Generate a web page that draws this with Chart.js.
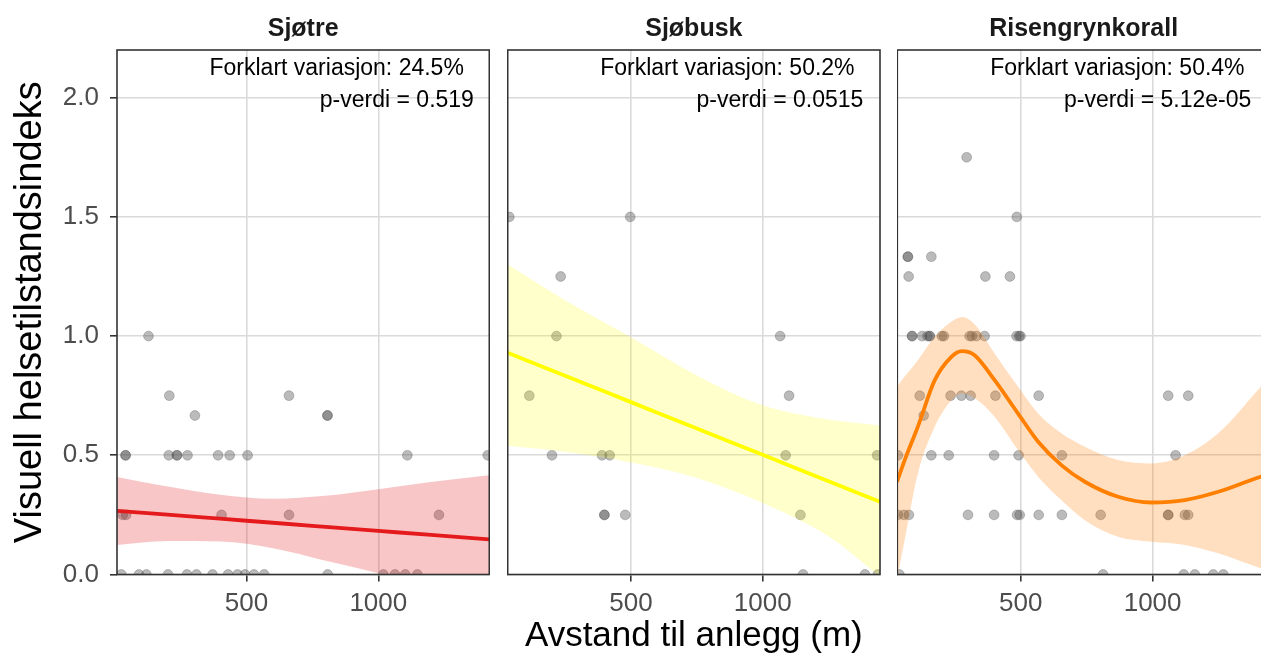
<!DOCTYPE html>
<html>
<head>
<meta charset="utf-8">
<script src="https://cdn.jsdelivr.net/npm/chart.js@4.4.1/dist/chart.umd.min.js"></script>
<style>
  html, body { margin: 0; padding: 0; width: 1261px; height: 659px; overflow: hidden; background: #fff; }
  .panel { position: absolute; top: 0; height: 659px; }
</style>
</head>
<body>
<div class="panel" style="left:0;width:490px"><canvas id="p1"></canvas></div>
<div class="panel" style="left:507px;width:374px"><canvas id="p2"></canvas></div>
<div class="panel" style="left:897px;width:374px"><canvas id="p3"></canvas></div>
<script>
const FONT = "'Liberation Sans', Arial, sans-serif";
Chart.defaults.font.family = FONT;

const xTicks = [500, 1000];
const yTicks = [0, 0.5, 1, 1.5, 2];

// Sjøtre
const sjotreX = [128, 207, 661, 304, 807, 807,
  41, 41, 205, 236, 236, 276, 392, 436, 504, 1110, 1415,
  30, 43, 405, 661, 1230,
  25, 92, 120, 202, 274, 310, 371, 430, 466, 494, 528, 567, 808, 1019, 1063, 1102, 1148];
const sjotreY = [1, 0.75, 0.75, 0.667, 0.667, 0.667,
  0.5, 0.5, 0.5, 0.5, 0.5, 0.5, 0.5, 0.5, 0.5, 0.5, 0.5,
  0.25, 0.25, 0.25, 0.25, 0.25,
  0, 0, 0, 0, 0, 0, 0, 0, 0, 0, 0, 0, 0, 0, 0, 0, 0];
const sjotreFitX = [8.5, 200, 400, 600, 800, 1000, 1200, 1421];
const sjotreFit = [0.267, 0.251, 0.234, 0.217, 0.200, 0.183, 0.166, 0.147];
const sjotreHi = [0.409, 0.369, 0.335, 0.318, 0.330, 0.358, 0.388, 0.416];
const sjotreLo = [0.124, 0.140, 0.138, 0.110, 0.058, 0.005, -0.060, -0.125];

// Sjøbusk
const sjobuskX = [38, 497, 233, 217, 1066, 114, 1100,
  200, 390, 419, 1087, 1434, 399, 399, 478, 1143, 1153, 1388, 1437];
const sjobuskY = [1.5, 1.5, 1.25, 1, 1, 0.75, 0.75,
  0.5, 0.5, 0.5, 0.5, 0.5, 0.25, 0.25, 0.25, 0.25, 0, 0, 0];
const sjobuskFitX = [32, 250, 500, 750, 1000, 1250, 1445];
const sjobuskFit = [0.93, 0.834, 0.723, 0.612, 0.502, 0.391, 0.305];
const sjobuskHi = [1.30, 1.15, 0.995, 0.835, 0.71, 0.65, 0.625];
const sjobuskLo = [0.54, 0.515, 0.47, 0.405, 0.30, 0.16, -0.01];

// Risengrynkorall
const risX = [295, 485, 72, 72, 161, 75, 366, 459,
  88, 88, 126, 146, 155, 155, 201, 209, 306, 315, 332, 363, 484, 494, 499,
  117, 234, 275, 310, 404, 568, 1059, 1135, 132,
  34, 161, 227, 399, 492, 656, 1087,
  34, 57, 76, 300, 399, 486, 496, 568, 656, 803, 1059, 1059, 1122, 1135,
  40, 812, 1118, 1160, 1230, 1268];
const risY = [1.75, 1.5, 1.333, 1.333, 1.333, 1.25, 1.25, 1.25,
  1, 1, 1, 1, 1, 1, 1, 1, 1, 1, 1, 1, 1, 1, 1,
  0.75, 0.75, 0.75, 0.75, 0.75, 0.75, 0.75, 0.75, 0.667,
  0.5, 0.5, 0.5, 0.5, 0.5, 0.5, 0.5,
  0.25, 0.25, 0.25, 0.25, 0.25, 0.25, 0.25, 0.25, 0.25, 0.25, 0.25, 0.25, 0.25, 0.25,
  0, 0, 0, 0, 0, 0];
const risFitX = [31, 60, 110, 174, 237, 277, 325, 401, 490, 566, 654, 743, 869, 996, 1122, 1249, 1410, 1445];
const risFit = [0.389, 0.48, 0.62, 0.815, 0.913, 0.937, 0.92, 0.815, 0.675, 0.557, 0.459, 0.389, 0.326, 0.302, 0.312, 0.347, 0.41, 0.42];
const risHi = [0.787, 0.83, 0.899, 0.997, 1.06, 1.08, 1.05, 0.927, 0.787, 0.675, 0.592, 0.536, 0.48, 0.466, 0.50, 0.592, 0.787, 0.83];
const risLo = [-0.02, 0.145, 0.424, 0.62, 0.731, 0.759, 0.74, 0.661, 0.522, 0.41, 0.312, 0.228, 0.158, 0.137, 0.124, 0.089, 0.026, 0.015];

const xy = (xs, ys) => xs.map((x, i) => ({ x: x, y: ys[i] }));

// text in the top right corner + full panel border
const panelDecor = {
  id: 'panelDecor',
  afterDraw(chart, args, opts) {
    const { ctx, chartArea: a } = chart;
    ctx.save();
    ctx.font = '23px ' + FONT;
    ctx.fillStyle = '#000';
    ctx.textBaseline = 'middle';
    ctx.textAlign = 'left';
    opts.lines.forEach((txt, i) => {
      const w = ctx.measureText(txt).width;
      ctx.fillText(txt, a.right - 1.1 * w, a.top + opts.offsets[i]);
    });
    ctx.strokeStyle = '#333';
    ctx.lineWidth = 1.6;
    ctx.strokeRect(a.left, a.top, a.right - a.left, a.bottom - a.top);
    ctx.restore();
  }
};

function makePanel(id, p) {
  const first = p.first;
  new Chart(document.getElementById(id), {
    type: 'scatter',
    data: {
      datasets: [
        { type: 'line', data: xy(p.fitX, p.fit), borderColor: p.line, borderWidth: 3.8,
          pointRadius: 0, fill: false, clip: 0, order: 1, cubicInterpolationMode: 'monotone' },
        { type: 'line', data: xy(p.fitX, p.hi), borderWidth: 0, pointRadius: 0, fill: '+1',
          backgroundColor: p.band, clip: 0, order: 2, cubicInterpolationMode: 'monotone' },
        { type: 'line', data: xy(p.fitX, p.lo), borderWidth: 0, pointRadius: 0, fill: false,
          clip: 0, order: 2, cubicInterpolationMode: 'monotone' },
        { data: xy(p.xs, p.ys), backgroundColor: 'rgba(77,77,77,0.38)', borderColor: 'rgba(77,77,77,0.3)',
          borderWidth: 1, pointRadius: 4.9, clip: 0, order: 3 }
      ]
    },
    options: {
      responsive: true,
      maintainAspectRatio: false,
      animation: false,
      events: [],
      layout: { padding: p.pad, autoPadding: false },
      plugins: {
        legend: { display: false },
        tooltip: { enabled: false },
        title: { display: true, text: p.name, fullSize: false, color: '#1a1a1a',
          font: { size: 25, weight: 'bold' }, padding: { top: 14, bottom: 6 } },
        panelDecor: { lines: p.notes, offsets: [19, 51] }
      },
      scales: {
        x: {
          type: 'linear', min: p.xMin, max: p.xMax,
          afterBuildTicks: s => { s.ticks = xTicks.map(v => ({ value: v })); },
          afterFit: s => { s.height = 84.5; },
          ticks: { color: '#4d4d4d', font: { size: 26 }, padding: 7, autoSkip: false, maxRotation: 0,
            callback: v => String(v) },
          grid: { color: '#dadada', lineWidth: 1.6, tickLength: 7, tickColor: '#333', tickWidth: 1.6 },
          border: { display: false },
          title: { display: p.xTitle, text: 'Avstand til anlegg (m)', color: '#000',
            font: { size: 35 }, padding: { top: 0, bottom: 2 } }
        },
        y: {
          type: 'linear', min: 0, max: 2.2,
          afterBuildTicks: s => { s.ticks = yTicks.map(v => ({ value: v })); },
          afterFit: s => { s.width = first ? 117 : 0; },
          ticks: { display: first, color: '#4d4d4d', font: { size: 26 }, padding: 11,
            callback: v => v.toFixed(1) },
          grid: { color: '#dadada', lineWidth: 1.6, tickLength: first ? 7 : 0, tickColor: '#333', tickWidth: 1.6 },
          border: { display: false },
          title: { display: first, text: 'Visuell helsetilstandsindeks', color: '#000',
            font: { size: 38 }, padding: { top: 8, bottom: 0 } }
        }
      }
    },
    plugins: [panelDecor]
  });
}

makePanel('p1', {
  name: 'Sjøtre', first: true, xTitle: false, xMin: 8.5, xMax: 1421,
  pad: { left: 0, right: 0.7, top: 0, bottom: 0 },
  xs: sjotreX, ys: sjotreY, fitX: sjotreFitX, fit: sjotreFit, hi: sjotreHi, lo: sjotreLo,
  line: '#e41a1c', band: 'rgba(228,26,28,0.25)',
  notes: ['Forklart variasjon: 24.5%', 'p-verdi = 0.519']
});
makePanel('p2', {
  name: 'Sjøbusk', first: false, xTitle: true, xMin: 32, xMax: 1445,
  pad: { left: 0.7, right: 1, top: 0, bottom: 0 },
  xs: sjobuskX, ys: sjobuskY, fitX: sjobuskFitX, fit: sjobuskFit, hi: sjobuskHi, lo: sjobuskLo,
  line: '#ffff00', band: 'rgba(255,255,0,0.2)',
  notes: ['Forklart variasjon: 50.2%', 'p-verdi = 0.0515']
});
makePanel('p3', {
  name: 'Risengrynkorall', first: false, xTitle: false, xMin: 32, xMax: 1445,
  pad: { left: 0.3, right: 1, top: 0, bottom: 0 },
  xs: risX, ys: risY, fitX: risFitX, fit: risFit, hi: risHi, lo: risLo,
  line: '#ff7f00', band: 'rgba(255,127,0,0.25)',
  notes: ['Forklart variasjon: 50.4%', 'p-verdi = 5.12e-05']
});
</script>
</body>
</html>
